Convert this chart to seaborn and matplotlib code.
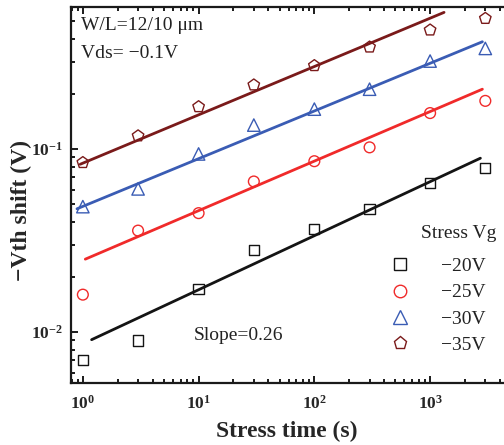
import numpy as np
import pandas as pd
import matplotlib
matplotlib.use("Agg")
import matplotlib.pyplot as plt
import seaborn as sns
from matplotlib.lines import Line2D
from matplotlib.ticker import LogLocator, NullFormatter

# ---- data ----
stress_time = [1, 3, 10, 30, 100, 300, 1000, 3000]
vg_labels = ["\u221220V", "\u221225V", "\u221230V", "\u221235V"]
shift_20 = [0.00706, 0.0090, 0.0172, 0.0281, 0.0366, 0.0469, 0.065, 0.079]
shift_25 = [0.0160, 0.0358, 0.0446, 0.0664, 0.0857, 0.102, 0.157, 0.183]
shift_30 = [0.0484, 0.0605, 0.0939, 0.135, 0.165, 0.212, 0.302, 0.354]
shift_35 = [0.0842, 0.1178, 0.170, 0.2235, 0.285, 0.360, 0.446, 0.516]
# fitted power-law lines (start/end)
fit_x0 = [1.19, 1.05, 0.89, 0.95]
fit_y0 = [0.00908, 0.025, 0.0471, 0.0825]
fit_x1 = [2720, 2830, 2830, 1320]
fit_y1 = [0.089, 0.212, 0.385, 0.557]

colors = ["#141414", "#f02a2a", "#3a5cb4", "#7a1a1a"]
markers = ["s", "o", "^", "p"]
sizes = [55, 60, 80, 75]

sns.set_theme(style="ticks")
plt.rcParams["font.family"] = ["Liberation Serif", "DejaVu Serif"]
plt.rcParams["mathtext.fontset"] = "custom"
plt.rcParams["mathtext.rm"] = "Liberation Serif"

fig = plt.figure(figsize=(5.04, 4.45), dpi=100)
ax = fig.add_axes([71/504, 62.5/445, 440/504, 375.5/445])

all_shift = [shift_20, shift_25, shift_30, shift_35]
for i, lab in enumerate(vg_labels):
    df = pd.DataFrame({"t": stress_time, "v": all_shift[i]})
    sns.scatterplot(data=df, x="t", y="v", marker=markers[i], s=sizes[i],
                    color=colors[i], ax=ax, legend=False, zorder=3)
    coll = ax.collections[-1]
    coll.set_facecolor("none")
    coll.set_edgecolor(colors[i])
    coll.set_linewidth(1.0)
    fl = pd.DataFrame({"t": [fit_x0[i], fit_x1[i]], "v": [fit_y0[i], fit_y1[i]]})
    sns.lineplot(data=fl, x="t", y="v", color=colors[i], lw=2.0, ax=ax,
                 legend=False, zorder=2)

ax.set_xscale("log")
ax.set_yscale("log")
ax.set_xlim(0.79, 5000)
ax.set_ylim(0.0053, 0.596)

for sp in ax.spines.values():
    sp.set_linewidth(1.6)
    sp.set_color("#1a1a1a")

ax.xaxis.set_major_locator(LogLocator(base=10, numticks=10))
ax.xaxis.set_minor_locator(LogLocator(base=10, subs=np.arange(2, 10), numticks=20))
ax.yaxis.set_major_locator(LogLocator(base=10, numticks=10))
ax.yaxis.set_minor_locator(LogLocator(base=10, subs=np.arange(2, 10), numticks=20))
ax.xaxis.set_minor_formatter(NullFormatter())
ax.yaxis.set_minor_formatter(NullFormatter())
ax.tick_params(which="both", direction="in", top=True, right=True,
               width=1.4, color="#1a1a1a")
ax.tick_params(which="major", length=5, labelsize=12.5)
ax.tick_params(axis="x", which="major", pad=9)
ax.tick_params(axis="y", which="major", pad=6)
ax.tick_params(which="minor", length=3)
for lbl in ax.get_xticklabels() + ax.get_yticklabels():
    lbl.set_fontweight("bold")

ax.set_xlabel("Stress time (s)", fontsize=17, fontweight="bold")
ax.xaxis.set_label_coords(0.49, -0.102)
ax.set_ylabel("\u2212Vth shift (V)", fontsize=17, fontweight="bold")
ax.yaxis.set_label_coords(-0.088, 0.457)

ax.text(0.022, 0.95, "W/L=12/10 \u03bcm", transform=ax.transAxes, fontsize=14,
        va="center", ha="left", color="#222222")
ax.text(0.022, 0.877, "Vds= \u22120.1V", transform=ax.transAxes, fontsize=14,
        va="center", ha="left", color="#222222")
ax.text(0.28, 0.125, "Slope=0.26", transform=ax.transAxes, fontsize=14,
        va="center", ha="left", color="#222222")

handles = [Line2D([], [], linestyle="none", marker=markers[i], markersize=[8, 9, 10, 9.5][i],
                  markerfacecolor="none", markeredgecolor=colors[i], markeredgewidth=1.0)
           for i in range(4)]
leg = ax.legend(handles, vg_labels, frameon=False,
                loc="upper left", bbox_to_anchor=(0.685, 0.354),
                fontsize=14, handletextpad=1.15, handlelength=2.0,
                labelspacing=0.45, borderaxespad=0)
for t in leg.get_texts():
    t.set_color("#222222")
ax.text(0.795, 0.397, "Stress Vg", transform=ax.transAxes, fontsize=14,
        va="center", ha="left", color="#222222")

fig.savefig("out.png", dpi=100)
